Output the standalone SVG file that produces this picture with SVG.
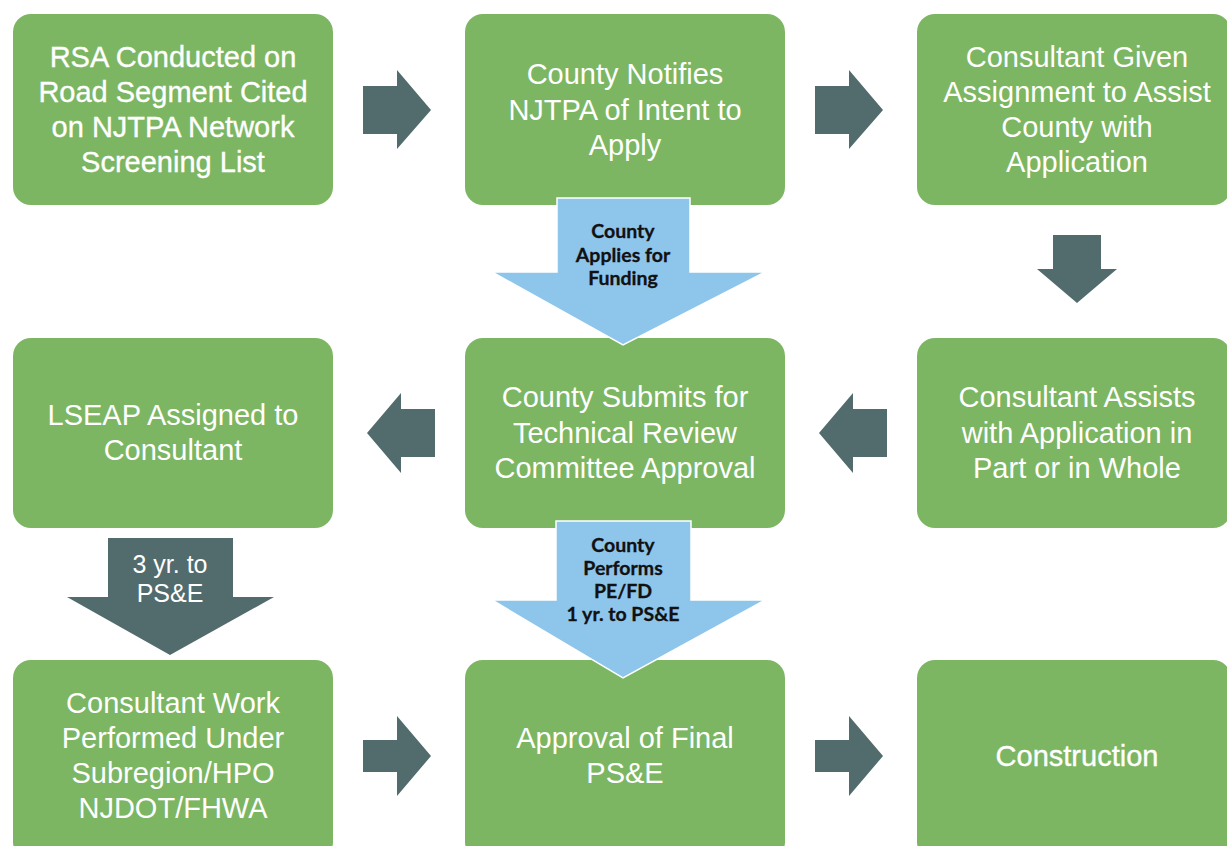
<svg xmlns="http://www.w3.org/2000/svg" width="1227" height="846" viewBox="0 0 1227 846">
  <style>
    .box { fill: #7CB662; }
    .lbl { font-family: "Liberation Sans", Arial, sans-serif; font-size: 29px; fill: #ffffff; text-anchor: middle; }
    .heavy { stroke: #ffffff; stroke-width: 0.35; }
    .dark { fill: #526B6D; }
    .blue { fill: #8EC5EB; stroke: #ffffff; stroke-width: 1.5; }
    .blbl { font-family: Lato, "DejaVu Sans", sans-serif; font-weight: 700; font-size: 19.5px; fill: #111111; stroke: #111111; stroke-width: 0.3; text-anchor: middle; }
    .dlbl { font-family: "Liberation Sans", Arial, sans-serif; font-size: 25px; fill: #ffffff; text-anchor: middle; }
  </style>

  <rect width="1227" height="846" fill="#ffffff"/>

  <!-- Row 1 -->
  <g id="rsa">
    <rect class="box" x="13" y="14" width="320" height="191" rx="18"/>
    <text class="lbl heavy" x="173" y="67">RSA Conducted on</text>
    <text class="lbl heavy" x="173" y="102">Road Segment Cited</text>
    <text class="lbl heavy" x="173" y="137">on NJTPA Network</text>
    <text class="lbl heavy" x="173" y="172">Screening List</text>
  </g>
  <g id="notify">
    <rect class="box" x="465" y="14" width="320" height="191" rx="18"/>
    <text class="lbl" x="625" y="84">County Notifies</text>
    <text class="lbl" x="625" y="120">NJTPA of Intent to</text>
    <text class="lbl" x="625" y="155">Apply</text>
  </g>
  <g id="assign">
    <rect class="box" x="917" y="14" width="314" height="191" rx="18"/>
    <text class="lbl" x="1077" y="67">Consultant Given</text>
    <text class="lbl" x="1077" y="102">Assignment to Assist</text>
    <text class="lbl" x="1077" y="137">County with</text>
    <text class="lbl" x="1077" y="172">Application</text>
  </g>

  <!-- Row 2 -->
  <g id="lseap">
    <rect class="box" x="13" y="338" width="320" height="190" rx="18"/>
    <text class="lbl" x="173" y="425">LSEAP Assigned to</text>
    <text class="lbl" x="173" y="460">Consultant</text>
  </g>
  <g id="submit">
    <rect class="box" x="465" y="338" width="320" height="190" rx="18"/>
    <text class="lbl" x="625" y="407">County Submits for</text>
    <text class="lbl" x="625" y="443">Technical Review</text>
    <text class="lbl" x="625" y="478">Committee Approval</text>
  </g>
  <g id="assists">
    <rect class="box" x="917" y="338" width="314" height="190" rx="18"/>
    <text class="lbl" x="1077" y="407">Consultant Assists</text>
    <text class="lbl" x="1077" y="443">with Application in</text>
    <text class="lbl" x="1077" y="478">Part or in Whole</text>
  </g>

  <!-- Row 3 -->
  <g id="work">
    <rect class="box" x="13" y="660" width="320" height="200" rx="18"/>
    <text class="lbl" x="173" y="713">Consultant Work</text>
    <text class="lbl" x="173" y="748">Performed Under</text>
    <text class="lbl" x="173" y="783">Subregion/HPO</text>
    <text class="lbl" x="173" y="818">NJDOT/FHWA</text>
  </g>
  <g id="approval">
    <rect class="box" x="465" y="660" width="320" height="200" rx="18"/>
    <text class="lbl" x="625" y="748">Approval of Final</text>
    <text class="lbl" x="625" y="783">PS&amp;E</text>
  </g>
  <g id="construction">
    <rect class="box" x="917" y="660" width="314" height="200" rx="18"/>
    <text class="lbl heavy" x="1077" y="766">Construction</text>
  </g>

  <!-- Connectors -->
  <g id="connectors">
    <!-- row 1 right arrows -->
    <polygon class="dark" points="363,86 397,86 397,70 431,110 397,149 397,134 363,134"/>
    <polygon class="dark" points="815,86 849,86 849,70 883,110 849,149 849,134 815,134"/>
    <!-- right column down arrow -->
    <polygon class="dark" points="1053,235 1101,235 1101,269 1117,269 1077,303 1037,269 1053,269"/>
    <!-- row 2 left arrows -->
    <polygon class="dark" points="887,409 853,409 853,393 819,433 853,473 853,457 887,457"/>
    <polygon class="dark" points="435,409 401,409 401,393 367,433 401,473 401,457 435,457"/>
    <!-- row 3 right arrows -->
    <polygon class="dark" points="363,740 397,740 397,716 431,756 397,796 397,772 363,772"/>
    <polygon class="dark" points="815,740 849,740 849,716 883,756 849,796 849,772 815,772"/>

    <!-- left column down arrow -->
    <polygon class="dark" points="108,538 233,538 233,597 274,597 170,655 67,597 108,597"/>
    <text class="dlbl" x="170" y="573">3 yr. to</text>
    <text class="dlbl" x="170" y="602">PS&amp;E</text>

    <!-- middle column blue arrows -->
    <polygon class="blue" points="557,198 690,198 690,272 765,272 623,345 492,272 557,272"/>
    <text class="blbl" x="623" y="238">County</text>
    <text class="blbl" x="623" y="262">Applies for</text>
    <text class="blbl" x="623" y="285">Funding</text>

    <polygon class="blue" points="556,521 691,521 691,600 765,600 623,678 492,600 556,600"/>
    <text class="blbl" x="623" y="552">County</text>
    <text class="blbl" x="623" y="575">Performs</text>
    <text class="blbl" x="623" y="598">PE/FD</text>
    <text class="blbl" x="623" y="621">1 yr. to PS&amp;E</text>
  </g>
</svg>
